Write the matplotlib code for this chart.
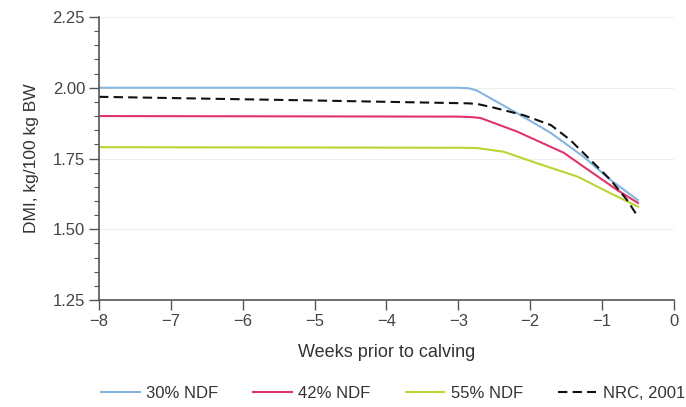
import matplotlib
matplotlib.use("Agg")
import matplotlib.pyplot as plt
from matplotlib.ticker import MultipleLocator, FormatStrFormatter

plt.rcParams["font.family"] = ["Liberation Sans", "DejaVu Sans"]

# values
weeks_30 = [-8, -3.0, -2.85, -2.74, -2.51, -2.18, -1.71, -1.25, -0.88, -0.5]
dmi_30 = [2.00, 2.00, 1.998, 1.99, 1.957, 1.91, 1.84, 1.755, 1.674, 1.603]

weeks_42 = [-8, -3.0, -2.8, -2.69, -2.55, -2.18, -1.53, -1.25, -0.79, -0.5]
dmi_42 = [1.90, 1.898, 1.896, 1.893, 1.88, 1.845, 1.77, 1.72, 1.639, 1.593]

weeks_55 = [-8, -3.0, -2.74, -2.37, -1.9, -1.34, -0.88, -0.5]
dmi_55 = [1.79, 1.788, 1.787, 1.774, 1.733, 1.686, 1.627, 1.58]

weeks_nrc = [-8, -5, -2.87, -2.74, -2.51, -2.09, -1.71, -1.44, -1.16, -0.88, -0.65, -0.5]
dmi_nrc = [1.968, 1.955, 1.945, 1.943, 1.93, 1.903, 1.868, 1.815, 1.745, 1.674, 1.603, 1.544]

x_ticks = list(range(-8, 1))
x_labels = ["\u22128", "\u22127", "\u22126", "\u22125", "\u22124", "\u22123", "\u22122", "\u22121", "0"]

fig = plt.figure(figsize=(6.86, 4.07), dpi=100)
ax = fig.add_axes([0.1443, 0.2629, 0.838, 0.6953])

grey = "#555555"
for y in [1.50, 1.75, 2.00, 2.25]:
    ax.axhline(y, color="#eeeeee", lw=0.8, zorder=0)

ax.plot(weeks_30, dmi_30, color="#86b6e0", lw=1.5, label="30% NDF")
ax.plot(weeks_42, dmi_42, color="#e0346c", lw=1.5, label="42% NDF")
ax.plot(weeks_55, dmi_55, color="#bcd432", lw=1.5, label="55% NDF")
ax.plot(weeks_nrc, dmi_nrc, color="#111111", lw=1.5, ls=(0, (4.5, 2.5)), label="NRC, 2001")

ax.set_xlim(-8, 0)
ax.set_ylim(1.25, 2.25)
ax.set_xticks(x_ticks)
ax.set_xticklabels(x_labels)
ax.yaxis.set_major_locator(MultipleLocator(0.25))
ax.yaxis.set_minor_locator(MultipleLocator(0.05))
ax.yaxis.set_major_formatter(FormatStrFormatter("%.2f"))

for side in ["top", "right"]:
    ax.spines[side].set_visible(False)
for side in ["left", "bottom"]:
    ax.spines[side].set_color(grey)
    ax.spines[side].set_linewidth(1.2)
ax.tick_params(which="both", direction="out", color=grey, labelcolor="#444444", labelsize=12)
ax.tick_params(which="major", length=7, width=1.0, pad=3)
ax.tick_params(which="minor", length=3.6, width=0.8)

ax.set_xlabel("Weeks prior to calving", fontsize=13, color="#333333", labelpad=11)
ax.set_ylabel("DMI, kg/100 kg BW", fontsize=12.5, color="#333333", labelpad=10)

fig.legend(loc="center", bbox_to_anchor=(0.573, 0.033), ncol=4, frameon=False,
           fontsize=12, handlelength=2.3, columnspacing=2.1, handletextpad=0.4,
           labelcolor="#333333")

fig.savefig("out.png", dpi=100)
